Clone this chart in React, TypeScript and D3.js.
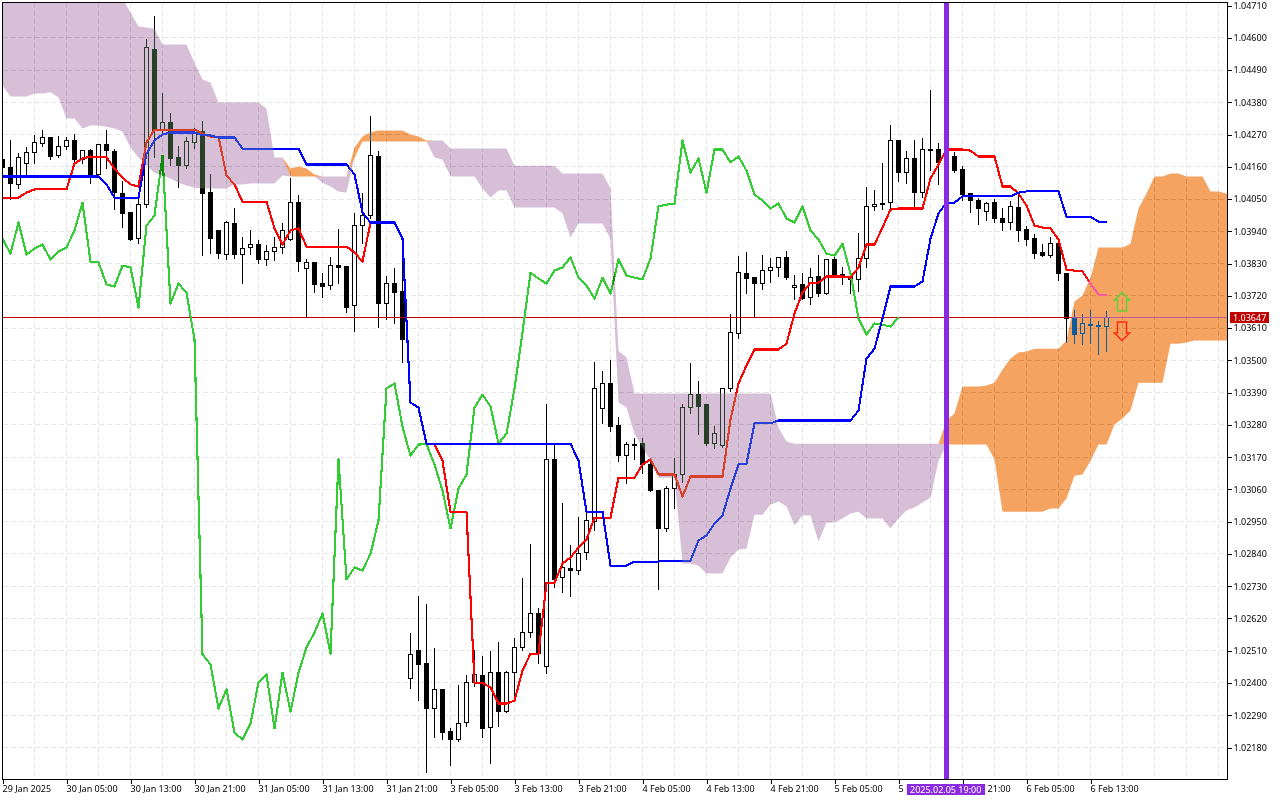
import React, { useRef, useEffect } from 'react';
import * as d3 from 'd3';

const highs = [
  1.04198, 1.04253, 1.04209, 1.04229, 1.0427, 1.04287, 1.0426, 1.04267, 1.04263, 1.04273,
  1.04219, 1.04222, 1.04236, 1.04287, 1.04222, 1.04113, 1.04004, 1.04052, 1.04597, 1.04676,
  1.04413, 1.04345, 1.04233, 1.04263, 1.04294, 1.04318, 1.04137, 1.03943, 1.03977, 1.04021,
  1.03922, 1.03946, 1.03912, 1.03895, 1.03922, 1.0397, 1.04123, 1.04065, 1.03847, 1.03834,
  1.03799, 1.03854, 1.0395, 1.03823, 1.04004, 1.04072, 1.04335, 1.04215, 1.03789, 1.03817,
  1.03844, 1.02572, 1.02698, 1.02671, 1.02521, 1.02378, 1.02248, 1.02395, 1.02429, 1.02514,
  1.02493, 1.0251, 1.02541, 1.02442, 1.02555, 1.02759, 1.02875, 1.02657, 1.03353, 1.03213,
  1.03015, 1.02872, 1.02967, 1.02984, 1.03496, 1.03465, 1.03503, 1.03308, 1.03223, 1.03237,
  1.03237, 1.03169, 1.03056, 1.03073, 1.03169, 1.03353, 1.03493, 1.03431, 1.03349, 1.03278,
  1.03404, 1.0366, 1.03857, 1.03871, 1.03782, 1.03861, 1.03851, 1.03854, 1.03874, 1.03793,
  1.03799, 1.03817, 1.03861, 1.03847, 1.03864, 1.0382, 1.03796, 1.03936, 1.04093, 1.04083,
  1.04175, 1.04304, 1.0425, 1.04215, 1.04253, 1.0426, 1.04424, 1.04243, 1.04222, 1.04212,
  1.04164, 1.04069, 1.04055, 1.04041, 1.04052, 1.04021, 1.04045, 1.04069, 1.0396, 1.03932,
  1.03898, 1.03922, 1.03909, 1.03796, 1.03673, 1.0366, 1.03673, 1.03636, 1.0367,
];
const lows = [
  1.04147, 1.04048, 1.04086, 1.0413, 1.04171, 1.04229, 1.04185, 1.04192, 1.04219, 1.04171,
  1.04171, 1.04103, 1.04123, 1.04154, 1.04014, 1.03953, 1.03909, 1.03898, 1.04021, 1.04192,
  1.04267, 1.04164, 1.04089, 1.04154, 1.04222, 1.03857, 1.03864, 1.03847, 1.03844, 1.03847,
  1.03762, 1.03861, 1.0383, 1.03823, 1.0384, 1.03864, 1.03909, 1.03803, 1.03649, 1.03731,
  1.03714, 1.03742, 1.03762, 1.03663, 1.03598, 1.03898, 1.03984, 1.03612, 1.03639, 1.03626,
  1.03493, 1.02381, 1.0234, 1.02094, 1.02214, 1.02207, 1.02118, 1.022, 1.02251, 1.02388,
  1.02214, 1.02125, 1.02251, 1.02299, 1.02357, 1.0251, 1.02555, 1.02466, 1.02432, 1.02725,
  1.02708, 1.02695, 1.0277, 1.02821, 1.0292, 1.03285, 1.03257, 1.03155, 1.0308, 1.03162,
  1.03114, 1.03053, 1.02719, 1.02916, 1.02995, 1.03083, 1.03319, 1.03247, 1.0321, 1.03199,
  1.03203, 1.03394, 1.03574, 1.03728, 1.03649, 1.03742, 1.03765, 1.03786, 1.03776, 1.03707,
  1.03707, 1.0369, 1.03718, 1.03725, 1.03782, 1.03759, 1.03728, 1.03735, 1.03817, 1.04011,
  1.04014, 1.04018, 1.0411, 1.04103, 1.04014, 1.04055, 1.04147, 1.041, 1.04164, 1.0414,
  1.04045, 1.04004, 1.03963, 1.03977, 1.0397, 1.03943, 1.03946, 1.03905, 1.03892, 1.03847,
  1.03854, 1.03851, 1.03772, 1.03561, 1.03557, 1.03554, 1.03557, 1.0352, 1.0353,
];
const opens = [
  1.04185, 1.04158, 1.041, 1.04171, 1.04209, 1.04239, 1.0426, 1.04198, 1.04229, 1.0425,
  1.04185, 1.04215, 1.04134, 1.04236, 1.04212, 1.04069, 1.04004, 1.03915, 1.04031, 1.0456,
  1.04284, 1.04311, 1.04192, 1.04164, 1.04243, 1.0428, 1.04072, 1.03943, 1.03861, 1.03967,
  1.03861, 1.03885, 1.03895, 1.03844, 1.03871, 1.03885, 1.03912, 1.04038, 1.03813, 1.03834,
  1.03762, 1.03755, 1.03823, 1.0382, 1.03687, 1.0396, 1.03994, 1.04195, 1.03694, 1.03762,
  1.03735, 1.02415, 1.0251, 1.02466, 1.02313, 1.02378, 1.02234, 1.02207, 1.02265, 1.02401,
  1.02425, 1.02248, 1.02435, 1.02302, 1.02435, 1.02521, 1.02572, 1.02637, 1.02456, 1.03162,
  1.02759, 1.0279, 1.02783, 1.02845, 1.0295, 1.03336, 1.03421, 1.03278, 1.03175, 1.03213,
  1.03216, 1.03145, 1.03056, 1.02927, 1.03063, 1.03111, 1.03339, 1.03383, 1.03349, 1.03216,
  1.0321, 1.03404, 1.03591, 1.03796, 1.03782, 1.03762, 1.03806, 1.03817, 1.03851, 1.03748,
  1.03759, 1.03714, 1.03786, 1.03728, 1.03844, 1.03793, 1.03782, 1.03776, 1.03847, 1.04025,
  1.04031, 1.04038, 1.0425, 1.0414, 1.04188, 1.04072, 1.04215, 1.04219, 1.04215, 1.04195,
  1.04151, 1.04069, 1.04045, 1.04007, 1.04038, 1.03984, 1.0397, 1.04021, 1.03946, 1.03915,
  1.03868, 1.03857, 1.03898, 1.03796, 1.03643, 1.03591, 1.03619, 1.03619, 1.03615,
];
const closes = [
  1.04158, 1.04103, 1.04192, 1.04209, 1.04243, 1.0426, 1.04195, 1.04229, 1.0425, 1.04185,
  1.04215, 1.04134, 1.04236, 1.04215, 1.04072, 1.04001, 1.03912, 1.04031, 1.04567, 1.04284,
  1.04311, 1.04188, 1.04164, 1.04246, 1.04277, 1.04069, 1.03915, 1.03864, 1.0397, 1.03861,
  1.03881, 1.03895, 1.03844, 1.03871, 1.03885, 1.03943, 1.04038, 1.03837, 1.03834, 1.03759,
  1.03752, 1.03823, 1.03817, 1.0368, 1.0396, 1.03994, 1.04198, 1.03694, 1.03762, 1.03731,
  1.03571, 1.02497, 1.02463, 1.02313, 1.02378, 1.02231, 1.02207, 1.02262, 1.02401, 1.02429,
  1.02245, 1.02435, 1.02302, 1.02435, 1.02521, 1.02572, 1.02637, 1.025, 1.03162, 1.02753,
  1.02794, 1.02783, 1.02841, 1.02954, 1.03404, 1.03421, 1.03274, 1.03175, 1.03213, 1.03214,
  1.03145, 1.03056, 1.02927, 1.03063, 1.03111, 1.03339, 1.03383, 1.03343, 1.03216, 1.0325,
  1.03404, 1.03595, 1.03799, 1.03779, 1.03762, 1.03806, 1.03817, 1.03851, 1.03782, 1.03755,
  1.03711, 1.03782, 1.03728, 1.03844, 1.03789, 1.03782, 1.03776, 1.03847, 1.04025, 1.04031,
  1.04035, 1.0425, 1.0414, 1.04188, 1.04072, 1.04219, 1.04219, 1.04175, 1.04195, 1.04147,
  1.04065, 1.04045, 1.04018, 1.04035, 1.03984, 1.0397, 1.04025, 1.03943, 1.03912, 1.03864,
  1.03857, 1.03898, 1.03796, 1.03643, 1.03588, 1.03626, 1.03622, 1.03615, 1.03647,
];

const tenkan = [
  1.04055, 1.04055, 1.04055, 1.04072, 1.04083, 1.04083, 1.04083, 1.04083, 1.04083, 1.04171,
  1.04188, 1.04195, 1.04192, 1.04192, 1.04154, 1.04123, 1.041, 1.04093, 1.04243, 1.04287,
  1.04287, 1.04287, 1.04287, 1.04287, 1.04287, 1.04273, 1.04263, 1.04263, 1.0413, 1.041,
  1.04041, 1.04041, 1.04041, 1.04041, 1.0395, 1.03895, 1.03943, 1.0395, 1.03888, 1.03888,
  1.03888, 1.03888, 1.03888, 1.03888, 1.03868, 1.03837, 1.0397, 1.0397, 1.0397, 1.0397,
  1.03915, 1.03356, 1.03339, 1.03216, 1.03213, 1.03158, 1.02984, 1.02984, 1.02984, 1.02401,
  1.02401, 1.02384, 1.0233, 1.0233, 1.0234, 1.02442, 1.025, 1.025, 1.02742, 1.02742,
  1.02807, 1.02828, 1.02862, 1.02889, 1.02964, 1.02964, 1.02964, 1.031, 1.031, 1.031,
  1.03145, 1.03162, 1.03111, 1.03111, 1.03111, 1.03036, 1.03104, 1.03104, 1.03104, 1.03104,
  1.03104, 1.03298, 1.03421, 1.03482, 1.03537, 1.03537, 1.03537, 1.03537, 1.03557, 1.0366,
  1.03731, 1.03765, 1.03765, 1.03786, 1.03786, 1.03786, 1.03782, 1.03817, 1.03895, 1.03895,
  1.03953, 1.04014, 1.04018, 1.04018, 1.04018, 1.04018, 1.0412, 1.04168, 1.04219, 1.04219,
  1.04219, 1.04215, 1.04195, 1.04195, 1.04195, 1.04093, 1.04093, 1.04069, 1.04028, 1.0396,
  1.03953, 1.0395, 1.03912, 1.0381, 1.03806, 1.03803, 1.03762, 1.03724, 1.03724,
];
const kijun = [
  1.04127, 1.04127, 1.04127, 1.04127, 1.04127, 1.04127, 1.04127, 1.04127, 1.04127, 1.04127,
  1.04127, 1.04127, 1.04127, 1.041, 1.04055, 1.04055, 1.04055, 1.04055, 1.04205, 1.0425,
  1.0427, 1.04277, 1.04277, 1.04277, 1.04277, 1.04267, 1.04267, 1.0426, 1.0426, 1.0426,
  1.04222, 1.04222, 1.04222, 1.04222, 1.04222, 1.04222, 1.04222, 1.04222, 1.04168, 1.04168,
  1.04168, 1.04168, 1.04168, 1.04168, 1.04134, 1.04004, 1.0397, 1.0397, 1.0397, 1.0397,
  1.03915, 1.03356, 1.03339, 1.03216, 1.03216, 1.03216, 1.03216, 1.03216, 1.03216, 1.03216,
  1.03216, 1.03216, 1.03216, 1.03216, 1.03216, 1.03216, 1.03216, 1.03216, 1.03216, 1.03216,
  1.03216, 1.03216, 1.03158, 1.02984, 1.02984, 1.02984, 1.028, 1.028, 1.028, 1.02814,
  1.02814, 1.02814, 1.02814, 1.02817, 1.02817, 1.02817, 1.02817, 1.02886, 1.02903, 1.02944,
  1.02971, 1.03063, 1.03145, 1.03148, 1.03285, 1.03285, 1.03285, 1.03295, 1.03295, 1.03295,
  1.03295, 1.03295, 1.03295, 1.03295, 1.03295, 1.03295, 1.03295, 1.03329, 1.03506, 1.0354,
  1.03643, 1.03752, 1.03752, 1.03752, 1.03752, 1.03769, 1.03915, 1.04001, 1.04038, 1.04038,
  1.04059, 1.04059, 1.04059, 1.04059, 1.04059, 1.04059, 1.04059, 1.04072, 1.04076, 1.04076,
  1.04076, 1.04076, 1.04076, 1.0399, 1.0399, 1.0399, 1.0399, 1.03973, 1.03973,
];
// chikou is the close moved back by 26 bars
const chikou = closes.slice(26);

const spanA = [
  1.04437, 1.044, 1.044, 1.044, 1.0441, 1.0441, 1.04414, 1.04396, 1.04325, 1.04325,
  1.04291, 1.04301, 1.04301, 1.04297, 1.04291, 1.0428, 1.04226, 1.04192, 1.04164, 1.0414,
  1.0413, 1.0412, 1.04106, 1.04096, 1.04089, 1.04086, 1.04086, 1.04086, 1.04086, 1.041,
  1.041, 1.04103, 1.04103, 1.04103, 1.04103, 1.0413, 1.04154, 1.04161, 1.04154, 1.04134,
  1.04106, 1.04093, 1.04076, 1.04072, 1.04226, 1.04263, 1.04277, 1.04284, 1.04284, 1.04284,
  1.04284, 1.0427, 1.04263, 1.0425, 1.04192, 1.04185, 1.04127, 1.04127, 1.04127, 1.04127,
  1.04086, 1.04055, 1.04079, 1.04079, 1.04021, 1.04021, 1.04021, 1.04021, 1.04021, 1.04021,
  1.04001, 1.03919, 1.03967, 1.03967, 1.03967, 1.03967, 1.03915, 1.03356, 1.03339, 1.0325,
  1.03203, 1.03158, 1.031, 1.031, 1.031, 1.02807, 1.02807, 1.028, 1.02773, 1.02773,
  1.02773, 1.02828, 1.02855, 1.02858, 1.02974, 1.02974, 1.03008, 1.03019, 1.03002, 1.02937,
  1.02971, 1.02971, 1.02882, 1.02947, 1.02947, 1.02961, 1.02978, 1.02984, 1.02961, 1.02961,
  1.02961, 1.02927, 1.02961, 1.02988, 1.02998, 1.03015, 1.03032, 1.03158, 1.03295, 1.03319,
  1.03411, 1.03411, 1.03411, 1.03414, 1.03424, 1.03469, 1.03506, 1.03527, 1.0353, 1.0354,
  1.0354, 1.0354, 1.0354, 1.03568, 1.03701, 1.03721, 1.03782, 1.03885, 1.03885, 1.03885,
  1.03885, 1.03898, 1.04018, 1.04069, 1.04127, 1.04127, 1.04137, 1.04137, 1.04127, 1.04127,
  1.04127, 1.04076, 1.04076, 1.04069, 1.04065,
];
const spanB = [
  1.04778, 1.04778, 1.04778, 1.04778, 1.04778, 1.04778, 1.04778, 1.04778, 1.04778, 1.04778,
  1.04778, 1.04778, 1.04778, 1.04778, 1.04778, 1.04734, 1.04686, 1.04638, 1.04635, 1.04631,
  1.04577, 1.04577, 1.04577, 1.04577, 1.04515, 1.04458, 1.04447, 1.04379, 1.04379, 1.04379,
  1.04379, 1.04379, 1.04379, 1.04359, 1.04192, 1.04192, 1.04127, 1.04127, 1.04127, 1.04127,
  1.04127, 1.04127, 1.04127, 1.04127, 1.04192, 1.04246, 1.04246, 1.04246, 1.04246, 1.04246,
  1.04246, 1.04246, 1.04246, 1.04246, 1.0425, 1.0425, 1.04222, 1.04222, 1.04222, 1.04222,
  1.04222, 1.04222, 1.04222, 1.04222, 1.04164, 1.04164, 1.04164, 1.04164, 1.04164, 1.04164,
  1.04137, 1.04137, 1.04137, 1.04137, 1.04137, 1.04137, 1.04086, 1.03533, 1.0351, 1.03387,
  1.03387, 1.03387, 1.03387, 1.03387, 1.03387, 1.03387, 1.03387, 1.03387, 1.03387, 1.03387,
  1.03387, 1.03387, 1.03387, 1.03387, 1.03387, 1.03387, 1.03387, 1.03271, 1.03223, 1.03216,
  1.03216, 1.03216, 1.03216, 1.03216, 1.03216, 1.03216, 1.03216, 1.03216, 1.03216, 1.03216,
  1.03216, 1.03216, 1.03216, 1.03216, 1.03216, 1.03216, 1.03216, 1.03216, 1.03213, 1.03213,
  1.03213, 1.03213, 1.03213, 1.03213, 1.03162, 1.02984, 1.02984, 1.02984, 1.02984, 1.02984,
  1.02984, 1.02995, 1.02995, 1.03029, 1.03107, 1.03111, 1.03158, 1.03213, 1.03213, 1.03281,
  1.03302, 1.03329, 1.03424, 1.03424, 1.03424, 1.03424, 1.03557, 1.03557, 1.03561, 1.03568,
  1.03568, 1.03568, 1.03568, 1.03568, 1.03568,
];

const priceTicks = [
  1.0471, 1.046, 1.0449, 1.0438, 1.0427, 1.0416, 1.0405, 1.0394, 1.0383, 1.0372, 1.0361, 1.035,
  1.0339, 1.0328, 1.0317, 1.0306, 1.0295, 1.0284, 1.0273, 1.0262, 1.0251, 1.024, 1.0229, 1.0218,
];
const timeLabels = [
  '29 Jan 2025', '30 Jan 05:00', '30 Jan 13:00', '30 Jan 21:00', '31 Jan 05:00', '31 Jan 13:00',
  '31 Jan 21:00', '3 Feb 05:00', '3 Feb 13:00', '3 Feb 21:00', '4 Feb 05:00', '4 Feb 13:00',
  '4 Feb 21:00', '5 Feb 05:00', '5 Feb 13:00', '5 Feb 21:00', '6 Feb 05:00', '6 Feb 13:00',
];

const lastPrice = 1.03647;
const markerBar = 118;
const markerLabel = '2025.02.05 19:00';
const arrowBar = 140;
const arrowUpTip = 1.03731;
const arrowDownTip = 1.03568;

const FONT = '"Noto Sans", sans-serif';
const FONT_SIZE = 9;

const App: React.FC = () => {
  const svgRef = useRef<SVGSVGElement | null>(null);

  useEffect(() => {
    if (!svgRef.current) return;
    document.body.style.margin = '0';

    const left = 2.5;
    const right = 1227.5;
    const top = 2.5;
    const bottom = 779.5;

    const svg = d3.select(svgRef.current);
    svg.selectAll('*').remove();

    svg.append('rect').attr('width', 1280).attr('height', 800).attr('fill', '#fff');

    svg
      .append('clipPath')
      .attr('id', 'plot')
      .append('rect')
      .attr('x', left)
      .attr('y', top)
      .attr('width', right - left)
      .attr('height', bottom - top);

    const x = d3.scaleLinear().domain([0, 153]).range([2.5, 1226.5]);
    const y = d3.scaleLinear().domain([1.0471, 1.0218]).range([5.5, 747.5]);
    const snap = (v: number) => Math.round(v - 0.5) + 0.5;

    // grid
    const grid = svg
      .append('g')
      .attr('stroke', '#e6e6e6')
      .attr('stroke-dasharray', '5 3')
      .attr('shape-rendering', 'crispEdges');
    grid
      .selectAll('.gh')
      .data(priceTicks.slice(1))
      .enter()
      .append('line')
      .attr('x1', left)
      .attr('x2', right)
      .attr('y1', (d) => snap(y(d)))
      .attr('y2', (d) => snap(y(d)));
    grid
      .selectAll('.gv')
      .data(d3.range(4, 154, 4))
      .enter()
      .append('line')
      .attr('x1', (d) => x(d))
      .attr('x2', (d) => x(d))
      .attr('y1', top)
      .attr('y2', bottom);

    // candles
    const bars = d3.range(closes.length);
    const candles = svg
      .append('g')
      .attr('clip-path', 'url(#plot)')
      .attr('shape-rendering', 'crispEdges');
    candles
      .selectAll('.wick')
      .data(bars)
      .enter()
      .append('line')
      .attr('x1', (i) => x(i))
      .attr('x2', (i) => x(i))
      .attr('y1', (i) => snap(y(highs[i])))
      .attr('y2', (i) => snap(y(lows[i])))
      .attr('stroke', '#000');
    candles
      .selectAll('.body')
      .data(bars)
      .enter()
      .append('rect')
      .attr('x', (i) => x(i) - 2)
      .attr('width', 4)
      .attr('y', (i) => snap(y(Math.max(opens[i], closes[i]))))
      .attr('height', (i) =>
        Math.max(1, snap(y(Math.min(opens[i], closes[i]))) - snap(y(Math.max(opens[i], closes[i]))))
      )
      .attr('fill', (i) => (closes[i] >= opens[i] ? '#fff' : '#000'))
      .attr('stroke', '#000');

    // last price line
    svg
      .append('line')
      .attr('x1', left)
      .attr('x2', right)
      .attr('y1', snap(y(lastPrice)))
      .attr('y2', snap(y(lastPrice)))
      .attr('stroke', '#c00000')
      .attr('shape-rendering', 'crispEdges');

    // ichimoku lines
    const lineOf = d3
      .line<number>()
      .x((_, i) => x(i))
      .y((d) => y(d));
    const lines: [number[], string][] = [
      [chikou, '#32cd32'],
      [tenkan, '#ff0000'],
      [kijun, '#0000ff'],
    ];
    lines.forEach(([values, color]) => {
      svg
        .append('path')
        .attr('d', lineOf(values))
        .attr('fill', 'none')
        .attr('stroke', color)
        .attr('stroke-width', 2.1)
        .attr('stroke-linejoin', 'round')
        .attr('shape-rendering', 'crispEdges');
    });

    // cloud, blended the way the terminal xors it over whatever is underneath
    const cloudBars = d3.range(spanA.length);
    const bearish = d3
      .area<number>()
      .x((i) => x(i))
      .y0((i) => y(spanB[i]))
      .y1((i) => y(Math.min(spanA[i], spanB[i])));
    const bullish = d3
      .area<number>()
      .x((i) => x(i))
      .y0((i) => y(spanB[i]))
      .y1((i) => y(Math.max(spanA[i], spanB[i])));
    svg
      .append('path')
      .attr('d', bearish(cloudBars))
      .attr('fill', '#274027')
      .attr('clip-path', 'url(#plot)')
      .style('mix-blend-mode', 'difference');
    svg
      .append('path')
      .attr('d', bullish(cloudBars))
      .attr('fill', '#0b5b9f')
      .attr('clip-path', 'url(#plot)')
      .style('mix-blend-mode', 'difference');

    // arrows
    const ax = x(arrowBar) - 0.5;
    const upY = y(arrowUpTip);
    const downY = y(arrowDownTip);
    const arrowPath = (tip: number, dir: number) =>
      `M${ax},${tip}L${ax + 7.5},${tip + dir * 7.5}H${ax + 4.5}V${tip + dir * 18.5}H${ax - 4.5}V${tip + dir * 7.5}H${ax - 7.5}Z`;
    svg
      .append('path')
      .attr('d', arrowPath(upY, 1))
      .attr('fill', 'none')
      .attr('stroke', '#62d238')
      .attr('stroke-width', 1.5);
    svg
      .append('path')
      .attr('d', arrowPath(downY, -1))
      .attr('fill', 'none')
      .attr('stroke', '#ff2a10')
      .attr('stroke-width', 1.5);

    // time marker
    svg
      .append('line')
      .attr('x1', x(markerBar))
      .attr('x2', x(markerBar))
      .attr('y1', top)
      .attr('y2', bottom)
      .attr('stroke', '#8a2be2')
      .attr('stroke-width', 5)
      .attr('shape-rendering', 'crispEdges');

    // frame and axes
    svg
      .append('rect')
      .attr('x', left)
      .attr('y', top)
      .attr('width', right - left)
      .attr('height', bottom - top)
      .attr('fill', 'none')
      .attr('stroke', '#000')
      .attr('shape-rendering', 'crispEdges');

    const yAxisG = svg.append('g').attr('transform', `translate(${right}, 0)`);
    yAxisG.call(
      d3
        .axisRight(y)
        .tickValues(priceTicks)
        .tickFormat((d) => d3.format('.5f')(d as number))
        .tickSize(4)
        .tickPadding(2)
    );
    yAxisG.select('.domain').remove();
    yAxisG.selectAll('line').attr('shape-rendering', 'crispEdges');
    yAxisG.attr('font-family', FONT).attr('font-size', FONT_SIZE);
    yAxisG.selectAll('text').attr('fill', '#000');

    const xAxisG = svg.append('g').attr('transform', `translate(0, ${bottom})`);
    xAxisG.call(
      d3
        .axisBottom(x)
        .tickValues(timeLabels.map((_, i) => i * 8))
        .tickFormat((_, i) => timeLabels[i])
        .tickSize(4)
        .tickPadding(2)
    );
    xAxisG.select('.domain').remove();
    xAxisG.selectAll('line').attr('shape-rendering', 'crispEdges');
    xAxisG.attr('font-family', FONT).attr('font-size', FONT_SIZE);
    xAxisG
      .selectAll('text')
      .attr('fill', '#000')
      .attr('text-anchor', 'start')
      .attr('dx', -0.5);

    // price tag
    svg
      .append('rect')
      .attr('x', 1230)
      .attr('y', snap(y(lastPrice)) - 5.5)
      .attr('width', 39)
      .attr('height', 11)
      .attr('fill', '#c00000');
    svg
      .append('text')
      .attr('x', 1233)
      .attr('y', snap(y(lastPrice)) + 3)
      .attr('fill', '#fff')
      .attr('font-family', FONT)
      .attr('font-size', FONT_SIZE)
      .text(d3.format('.5f')(lastPrice));

    // time tag
    svg
      .append('rect')
      .attr('x', 907)
      .attr('y', 784)
      .attr('width', 78)
      .attr('height', 11)
      .attr('fill', '#8a2be2');
    svg
      .append('text')
      .attr('x', 910)
      .attr('y', 792.5)
      .attr('fill', '#fff')
      .attr('font-family', FONT)
      .attr('font-size', FONT_SIZE)
      .text(markerLabel);
  }, []);

  return (
    <svg
      ref={svgRef}
      width={1280}
      height={800}
      style={{ display: 'block', position: 'absolute', left: 0, top: 0 }}
    />
  );
};

export default App;
